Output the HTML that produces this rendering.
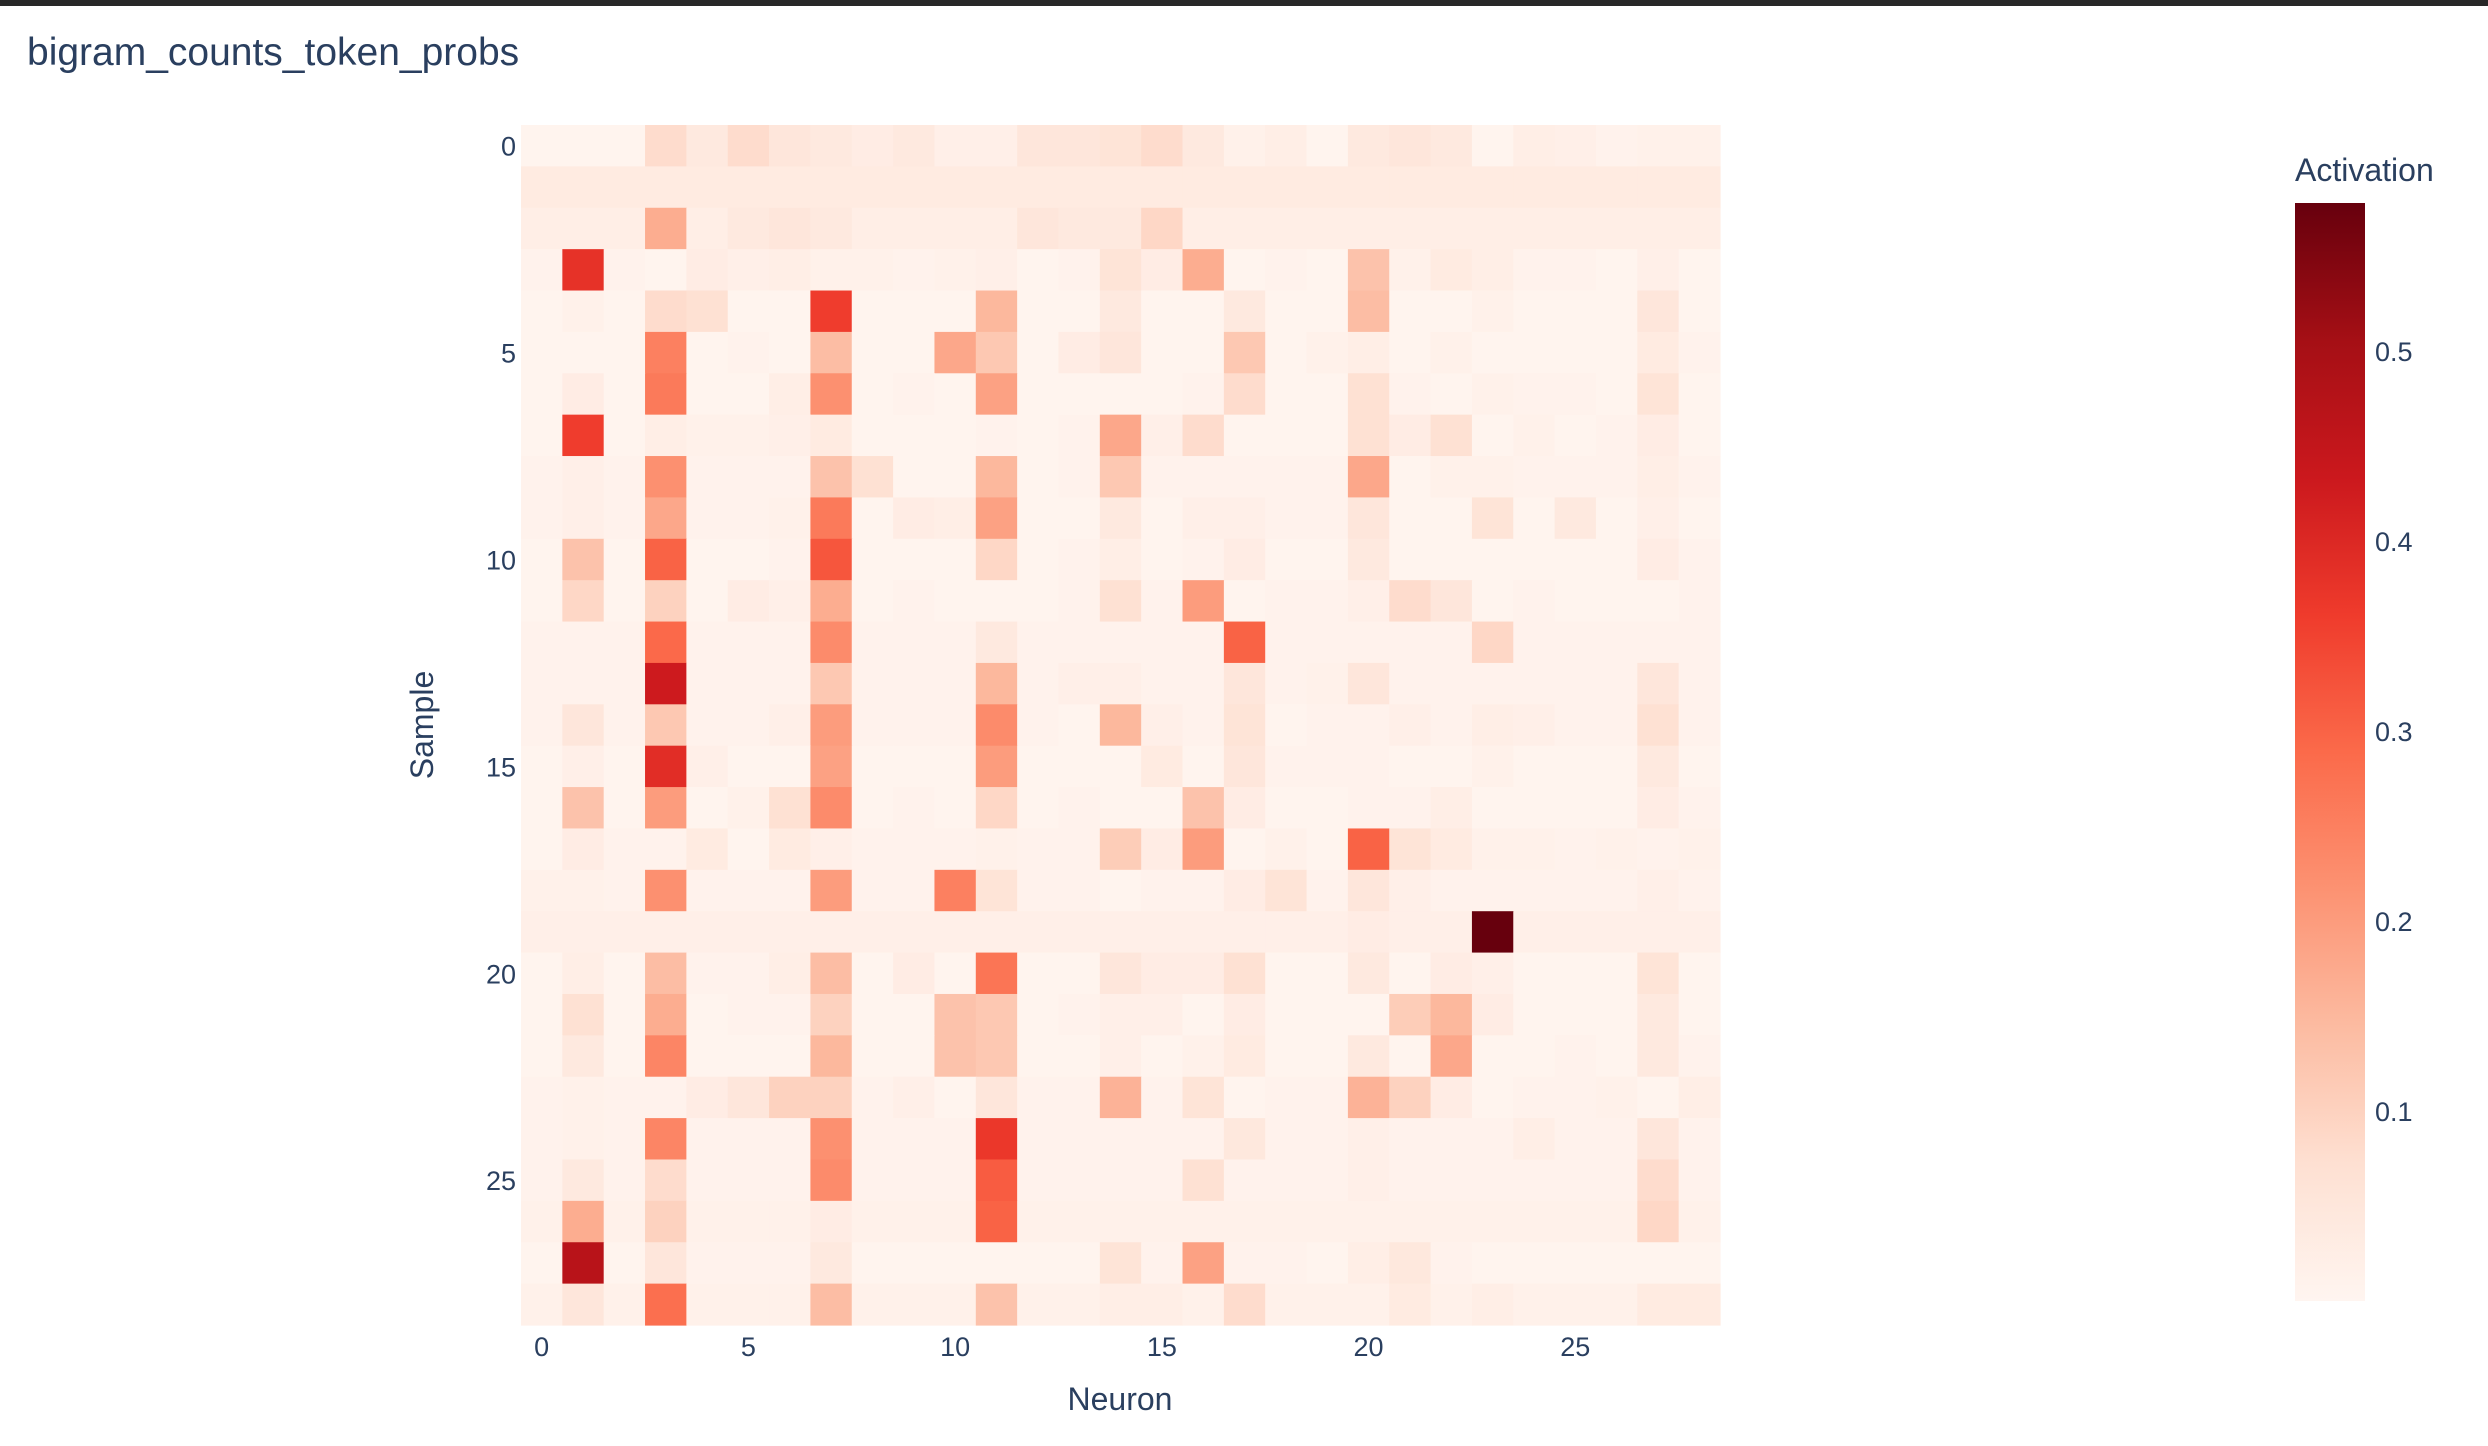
<!DOCTYPE html>
<html><head><meta charset="utf-8">
<style>
html,body{margin:0;padding:0;background:#fff;}
#wrap{position:relative;width:2488px;height:1446px;overflow:hidden;font-family:"Liberation Sans",sans-serif;}
#topbar{position:absolute;left:0;top:0;width:2488px;height:6px;background:#282828;}
svg text{font-family:"Liberation Sans",sans-serif;fill:#2a3f5f;}
</style></head>
<body>
<div id="wrap">
<div id="topbar"></div>
<svg id="chart" width="2488" height="1446" style="position:absolute;left:0;top:0">
<text x="27" y="65" font-size="39">bigram_counts_token_probs</text>
<text x="1120" y="1410" font-size="32" text-anchor="middle">Neuron</text>
<text x="0" y="0" font-size="32" text-anchor="middle" transform="translate(433,725) rotate(-90)">Sample</text>
<text x="2295" y="181" font-size="32">Activation</text>
<g id="cells"></g>
<g id="xticks"></g>
<g id="yticks"></g>
<defs><linearGradient id="cbgrad" x1="0" y1="1" x2="0" y2="0"></linearGradient></defs>
<rect id="cbar"></rect>
<g id="cbticks"></g>
</svg>
</div>
<script>
const xTickValues = [0,5,10,15,20,25];
const yTickValues = [0,5,10,15,20,25];
const cbTickValues = [0.1,0.2,0.3,0.4,0.5];
const zMin = 0;
const zMax = 0.578;
const row0 = [0.005,0.005,0.005,0.08,0.04,0.08,0.05,0.04,0.03,0.04,0.02,0.02,0.05,0.05,0.06,0.08,0.04,0.015,0.025,0.005,0.04,0.05,0.04,0.005,0.025,0.02,0.01,0.015,0.015];
const row1 = [0.035,0.035,0.035,0.035,0.035,0.035,0.035,0.035,0.035,0.035,0.035,0.035,0.035,0.035,0.035,0.035,0.035,0.035,0.035,0.035,0.035,0.035,0.035,0.035,0.035,0.035,0.035,0.035,0.035];
const row2 = [0.025,0.025,0.025,0.17,0.025,0.04,0.05,0.04,0.025,0.025,0.025,0.025,0.05,0.04,0.04,0.09,0.025,0.025,0.025,0.025,0.025,0.025,0.025,0.025,0.025,0.025,0.025,0.025,0.025];
const row3 = [0.01,0.38,0.01,0.005,0.03,0.02,0.025,0.015,0.015,0.01,0.015,0.02,0.005,0.01,0.06,0.03,0.17,0.005,0.01,0.005,0.13,0.015,0.035,0.025,0.01,0.01,0.005,0.02,0.005];
const row4 = [0.005,0.015,0.005,0.08,0.07,0.005,0.005,0.36,0.005,0.005,0.005,0.15,0.005,0.005,0.04,0.005,0.005,0.04,0.005,0.005,0.14,0.005,0.005,0.015,0.005,0.005,0.005,0.05,0.005];
const row5 = [0.005,0.005,0.005,0.25,0.005,0.01,0.005,0.14,0.005,0.005,0.18,0.12,0.005,0.03,0.05,0.005,0.005,0.12,0.005,0.015,0.025,0.005,0.015,0.005,0.005,0.005,0.005,0.035,0.01];
const row6 = [0.005,0.03,0.005,0.26,0.005,0.005,0.025,0.22,0.005,0.01,0.005,0.19,0.005,0.005,0.005,0.005,0.01,0.08,0.005,0.005,0.07,0.01,0.005,0.015,0.01,0.01,0.005,0.06,0.005];
const row7 = [0.005,0.36,0.005,0.025,0.015,0.015,0.02,0.035,0.005,0.005,0.005,0.01,0.005,0.01,0.18,0.02,0.08,0.005,0.005,0.005,0.07,0.03,0.07,0.005,0.015,0.005,0.01,0.03,0.005];
const row8 = [0.01,0.02,0.01,0.22,0.01,0.01,0.01,0.13,0.07,0.005,0.005,0.15,0.005,0.01,0.12,0.01,0.01,0.01,0.01,0.01,0.18,0.005,0.015,0.015,0.01,0.01,0.01,0.025,0.01];
const row9 = [0.01,0.02,0.01,0.18,0.01,0.01,0.015,0.26,0.005,0.03,0.025,0.19,0.005,0.005,0.04,0.005,0.02,0.02,0.01,0.01,0.05,0.005,0.005,0.06,0.005,0.04,0.005,0.02,0.005];
const row10 = [0.005,0.13,0.005,0.3,0.005,0.005,0.01,0.32,0.005,0.005,0.005,0.09,0.005,0.01,0.025,0.005,0.01,0.03,0.005,0.005,0.04,0.005,0.005,0.005,0.005,0.005,0.005,0.03,0.01];
const row11 = [0.005,0.09,0.005,0.1,0.005,0.03,0.02,0.17,0.005,0.01,0.005,0.005,0.005,0.01,0.07,0.01,0.2,0.005,0.01,0.01,0.02,0.08,0.05,0.005,0.01,0.005,0.005,0.005,0.01];
const row12 = [0.01,0.01,0.01,0.29,0.01,0.01,0.01,0.23,0.01,0.01,0.01,0.04,0.01,0.01,0.01,0.01,0.01,0.3,0.01,0.01,0.01,0.01,0.01,0.09,0.01,0.01,0.01,0.01,0.01];
const row13 = [0.01,0.01,0.01,0.43,0.01,0.01,0.01,0.12,0.01,0.01,0.01,0.15,0.01,0.02,0.02,0.01,0.01,0.05,0.01,0.015,0.05,0.01,0.01,0.01,0.01,0.01,0.01,0.05,0.01];
const row14 = [0.01,0.05,0.01,0.12,0.01,0.01,0.02,0.2,0.01,0.01,0.01,0.23,0.01,0.005,0.15,0.02,0.01,0.06,0.005,0.01,0.01,0.02,0.01,0.025,0.02,0.01,0.01,0.07,0.01];
const row15 = [0.005,0.02,0.005,0.39,0.02,0.005,0.005,0.19,0.005,0.005,0.005,0.2,0.005,0.005,0.005,0.035,0.005,0.05,0.01,0.01,0.01,0.005,0.005,0.015,0.005,0.005,0.005,0.04,0.005];
const row16 = [0.005,0.13,0.005,0.2,0.005,0.015,0.07,0.23,0.005,0.01,0.005,0.09,0.005,0.01,0.005,0.005,0.13,0.03,0.005,0.005,0.01,0.01,0.025,0.005,0.005,0.005,0.005,0.03,0.01];
const row17 = [0.005,0.03,0.01,0.01,0.035,0.005,0.035,0.02,0.01,0.01,0.01,0.015,0.01,0.01,0.11,0.03,0.2,0.005,0.015,0.005,0.3,0.06,0.035,0.015,0.015,0.01,0.015,0.01,0.015];
const row18 = [0.015,0.015,0.01,0.22,0.01,0.01,0.01,0.2,0.01,0.01,0.25,0.06,0.01,0.01,0.005,0.01,0.01,0.03,0.06,0.01,0.05,0.02,0.01,0.01,0.01,0.01,0.01,0.02,0.01];
const row19 = [0.02,0.02,0.02,0.02,0.02,0.02,0.02,0.02,0.02,0.02,0.02,0.02,0.02,0.02,0.02,0.02,0.02,0.02,0.02,0.02,0.03,0.02,0.02,0.578,0.02,0.02,0.02,0.02,0.02];
const row20 = [0.005,0.025,0.005,0.14,0.01,0.01,0.025,0.14,0.005,0.03,0.005,0.27,0.005,0.005,0.05,0.03,0.03,0.07,0.005,0.005,0.04,0.005,0.03,0.02,0.005,0.005,0.005,0.06,0.005];
const row21 = [0.005,0.07,0.005,0.17,0.005,0.01,0.01,0.1,0.005,0.005,0.13,0.12,0.005,0.01,0.02,0.02,0.005,0.03,0.005,0.005,0.005,0.11,0.15,0.03,0.005,0.005,0.005,0.04,0.005];
const row22 = [0.005,0.04,0.005,0.24,0.005,0.005,0.005,0.15,0.005,0.005,0.13,0.12,0.005,0.005,0.02,0.005,0.015,0.035,0.005,0.005,0.04,0.005,0.18,0.005,0.005,0.01,0.005,0.04,0.01];
const row23 = [0.01,0.015,0.01,0.01,0.03,0.05,0.1,0.1,0.01,0.02,0.005,0.05,0.01,0.01,0.16,0.01,0.06,0.005,0.01,0.01,0.16,0.1,0.03,0.005,0.01,0.01,0.015,0.005,0.025];
const row24 = [0.01,0.015,0.01,0.24,0.01,0.01,0.01,0.22,0.01,0.01,0.01,0.37,0.01,0.01,0.01,0.01,0.01,0.045,0.01,0.01,0.02,0.01,0.01,0.01,0.025,0.01,0.01,0.05,0.01];
const row25 = [0.01,0.04,0.01,0.08,0.01,0.01,0.01,0.23,0.01,0.01,0.01,0.31,0.01,0.01,0.01,0.01,0.07,0.01,0.01,0.01,0.02,0.01,0.01,0.01,0.01,0.01,0.01,0.08,0.01];
const row26 = [0.015,0.17,0.015,0.1,0.015,0.015,0.015,0.03,0.015,0.015,0.015,0.3,0.015,0.015,0.015,0.015,0.015,0.015,0.015,0.015,0.015,0.015,0.015,0.015,0.015,0.015,0.015,0.09,0.015];
const row27 = [0.005,0.47,0.005,0.05,0.01,0.01,0.01,0.04,0.005,0.005,0.005,0.005,0.005,0.005,0.06,0.01,0.19,0.01,0.01,0.005,0.025,0.045,0.01,0.005,0.005,0.005,0.005,0.005,0.005];
const row28 = [0.015,0.05,0.015,0.28,0.015,0.015,0.015,0.14,0.015,0.015,0.015,0.13,0.015,0.015,0.025,0.025,0.015,0.08,0.015,0.015,0.015,0.035,0.015,0.025,0.015,0.015,0.015,0.035,0.035];
const zRows = [row0,row1,row2,row3,row4,row5,row6,row7,row8,row9,row10,row11,row12,row13,row14,row15,row16,row17,row18,row19,row20,row21,row22,row23,row24,row25,row26,row27,row28];

const NS = "http://www.w3.org/2000/svg";
const plotL = 521, plotT = 125, plotW = 1199, plotH = 1200;
const nCols = zRows[0].length, nRows = zRows.length;
const cw = plotW / nCols, ch = plotH / nRows;
const xPos = c => plotL + c * cw;
const yPos = r => plotT + r * ch;
const stops = [[0,[255,245,240]],[0.125,[254,224,210]],[0.25,[252,187,161]],[0.375,[252,146,114]],[0.5,[251,106,74]],[0.625,[239,59,44]],[0.75,[203,24,29]],[0.875,[165,15,21]],[1,[103,0,13]]];
function color(v){
  let t = (v - zMin) / (zMax - zMin); t = Math.max(0, Math.min(1, t));
  for (let i = 1; i < stops.length; i++) {
    if (t <= stops[i][0]) {
      const a = stops[i-1], b = stops[i], f = (t - a[0]) / (b[0] - a[0]);
      const c = a[1].map((x, k) => Math.round(x + (b[1][k] - x) * f));
      return `rgb(${c[0]},${c[1]},${c[2]})`;
    }
  }
  return 'rgb(103,0,13)';
}
const cells = document.getElementById('cells');
zRows.forEach((row, r) => row.forEach((v, c) => {
  const el = document.createElementNS(NS, 'rect');
  el.setAttribute('x', xPos(c)); el.setAttribute('y', yPos(r));
  el.setAttribute('width', cw + 0.6); el.setAttribute('height', ch + 0.6);
  el.setAttribute('fill', color(v));
  
  
  cells.appendChild(el);
}));
const xt = document.getElementById('xticks');
xTickValues.forEach(v => {
  const t = document.createElementNS(NS, 'text');
  t.setAttribute('x', xPos(v + 0.5)); t.setAttribute('y', 1356);
  t.setAttribute('font-size', '27'); t.setAttribute('text-anchor', 'middle');
  t.textContent = v;
  
  
  xt.appendChild(t);
});
const yt = document.getElementById('yticks');
yTickValues.forEach(v => {
  const t = document.createElementNS(NS, 'text');
  t.setAttribute('x', 516); t.setAttribute('y', yPos(v + 0.5) + 10);
  t.setAttribute('font-size', '27'); t.setAttribute('text-anchor', 'end');
  t.textContent = v;
  
  
  yt.appendChild(t);
});
const cbL = 2295, cbT = 203, cbW = 70, cbH = 1098;
const grad = document.getElementById('cbgrad');
stops.forEach(s => {
  const st = document.createElementNS(NS, 'stop');
  st.setAttribute('offset', s[0]);
  st.setAttribute('stop-color', `rgb(${s[1].join(',')})`);
  grad.appendChild(st);
});
const cb = document.getElementById('cbar');
cb.setAttribute('x', cbL); cb.setAttribute('y', cbT); cb.setAttribute('width', cbW); cb.setAttribute('height', cbH);
cb.setAttribute('fill', 'url(#cbgrad)');
const cbt = document.getElementById('cbticks');
cbTickValues.forEach(v => {
  const t = document.createElementNS(NS, 'text');
  const y = cbT + cbH - (v - zMin) / (zMax - zMin) * cbH;
  t.setAttribute('x', cbL + 80); t.setAttribute('y', y + 10);
  t.setAttribute('font-size', '27');
  t.textContent = v.toFixed(1);
  
  
  cbt.appendChild(t);
});
</script>
</body></html>
